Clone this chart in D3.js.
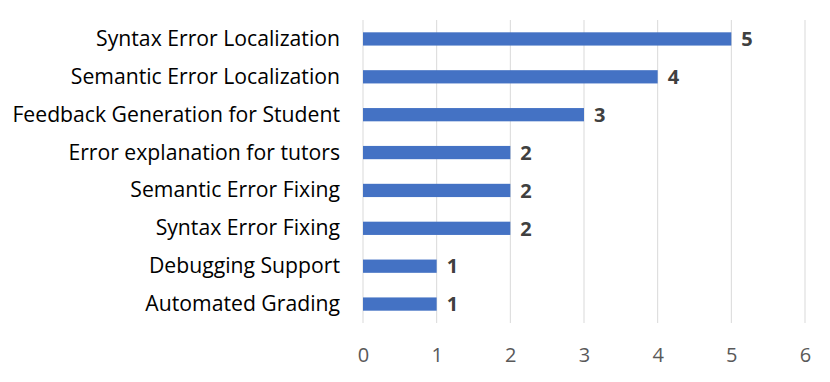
<!DOCTYPE html>
<html>
<head>
<meta charset="utf-8">
<script src="https://cdn.jsdelivr.net/npm/d3@7"></script>
<style>
  body { margin: 0; background: #fff; }
  svg text { font-family: "Open Sans", Lato, sans-serif; }
</style>
</head>
<body>
<svg id="chart" width="830" height="382"></svg>
<script>
// Data
var categories = [
  "Syntax Error Localization",
  "Semantic Error Localization",
  "Feedback Generation for Student",
  "Error explanation for tutors",
  "Semantic Error Fixing",
  "Syntax Error Fixing",
  "Debugging Support",
  "Automated Grading"
]
var counts = [5, 4, 3, 2, 2, 2, 1, 1]
var xTicks = [0, 1, 2, 3, 4, 5, 6]

var margin = { top: 20, right: 25, bottom: 59, left: 363 }
var width = 830 - margin.left - margin.right
var height = 382 - margin.top - margin.bottom

var svg = d3.select("#chart")

var chart = svg.append("g")
  .attr("transform", "translate(" + margin.left + "," + margin.top + ")")

var xscale = d3.scaleLinear().domain([0, 6]).range([0, width])
var yscale = d3.scaleBand().domain(categories).range([0, height]).paddingInner(0.65).paddingOuter(0.325)

// vertical gridlines
chart.append("g")
  .selectAll("line")
  .data(xTicks)
  .enter()
  .append("line")
  .attr("x1", function (d) { return xscale(d) })
  .attr("x2", function (d) { return xscale(d) })
  .attr("y1", 0)
  .attr("y2", height)
  .attr("stroke", "#d9d9d9")
  .attr("stroke-width", 1)

// x axis (labels only)
var xAxis = d3.axisBottom(xscale).tickValues(xTicks).tickFormat(d3.format("d")).tickSize(0).tickPadding(25)
var gx = chart.append("g")
  .attr("transform", "translate(0," + height + ")")
  .call(xAxis)
gx.select(".domain").remove()
gx.selectAll("text")
  .style("font-size", "20px")
  .attr("fill", "#595959")

// y axis (category labels)
var yAxis = d3.axisLeft(yscale).tickSize(0).tickPadding(23)
var gy = chart.append("g").call(yAxis)
gy.select(".domain").remove()
gy.selectAll("text")
  .style("font-size", "21.2px")
  .attr("dy", "0.33em")
  .attr("fill", "#000")

// bars
chart.append("g")
  .selectAll("rect")
  .data(counts)
  .enter()
  .append("rect")
  .attr("x", xscale(0))
  .attr("y", function (d, i) { return yscale(categories[i]) })
  .attr("width", function (d) { return xscale(d) - xscale(0) })
  .attr("height", yscale.bandwidth())
  .attr("fill", "#4472c4")

// value labels
chart.append("g")
  .selectAll("text")
  .data(counts)
  .enter()
  .append("text")
  .attr("x", function (d) { return xscale(d) + 10 })
  .attr("y", function (d, i) { return yscale(categories[i]) + yscale.bandwidth() / 2 })
  .attr("dy", "0.36em")
  .style("font-size", "20px")
  .style("font-weight", "bold")
  .attr("fill", "#404040")
  .text(function (d) { return d })
</script>
</body>
</html>
